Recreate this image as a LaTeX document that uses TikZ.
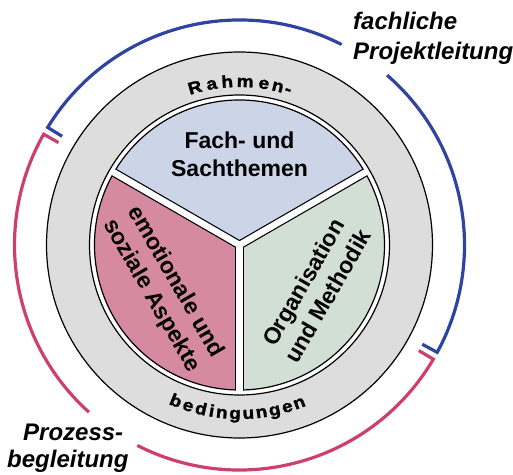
\documentclass[tikz,border=0pt]{standalone}
\usepackage{fontspec}
\setmainfont{Liberation Sans}
\newfontfamily\ringfam{Liberation Sans Bold}[FakeBold=1.6, FakeStretch=1.12]
\definecolor{ringgray}{RGB}{221,221,221}
\definecolor{secblue}{RGB}{203,213,231}
\definecolor{secpink}{RGB}{214,138,161}
\definecolor{secgreen}{RGB}{210,223,212}
\definecolor{arcblue}{RGB}{46,68,160}
\definecolor{arcpink}{RGB}{205,64,110}
\newcommand\myringfont{\ringfam\fontsize{17}{20}\selectfont}
\tikzset{
  outl/.style={draw=black, line width=1.2pt},
  bracketarc/.style={line width=3.2pt, line join=miter},
  inlabel/.style={font=\bfseries\fontsize{23}{28}\selectfont, align=center, inner sep=0pt},
  outlabel/.style={font=\bfseries\itshape\fontsize{24}{29}\selectfont, inner sep=0pt, anchor=base west},
  ringchar/.style={font=\myringfont, inner sep=0pt, anchor=base}
}
\begin{document}
\begin{tikzpicture}[x=1pt,y=1pt]
\useasboundingbox (0,0) rectangle (513,474);
\begin{scope}[shift={(239.5,229)}]
  \coordinate (C) at (0,0);
  % rings
  \path[outl, fill=ringgray] (C) circle[radius=193];
  \path[outl, fill=white] (C) circle[radius=150];
  % sectors
  \path[outl, fill=secblue] (C) -- (30:145) arc[start angle=30, end angle=150, radius=145] -- cycle;
  \path[outl, fill=secpink] (C) -- (150:145) arc[start angle=150, end angle=270, radius=145] -- cycle;
  \path[outl, fill=secgreen] (C) -- (270:145) arc[start angle=270, end angle=390, radius=145] -- cycle;
  % gaps between sectors
  \foreach \a in {30,150,270} \draw[line width=8.8pt] (C) -- (\a:145);
  \foreach \a in {30,150,270} \draw[white, line width=6.4pt] (C) -- (\a:147.5);
  % outer brackets
  \draw[arcblue, bracketarc] (-28.5:208) -- (-28.5:225) arc[start angle=-28.5, end angle=49, radius=225];
  \draw[arcblue, bracketarc] (63:225) arc[start angle=63, end angle=148.5, radius=225] -- (148.5:208);
  \draw[arcpink, bracketarc] (150.5:208) -- (150.5:225) arc[start angle=150.5, end angle=228, radius=225];
  \draw[arcpink, bracketarc] (243:225) arc[start angle=243, end angle=329.5, radius=225] -- (329.5:208);
  % curved ring text: "Rahmen-" (top) and "bedingungen" (bottom), letter by letter
  \foreach \ch/\ang [count=\i] in {R/105.8, a/99.8, h/94.3, m/88.0, e/81.4, n/76.4, -/72.6}
    \node[ringchar, rotate=\ang-90] (top\i) at (\ang:158) {\ch};
  \foreach \ch/\ang [count=\i] in {b/247.8, e/252.3, d/256.8, i/260.5, n/264.0, g/268.5, u/273.0, n/277.5, g/282.0, e/286.4, n/290.7}
    \node[ringchar, rotate=\ang+90] (bot\i) at (\ang:174) {\ch};
\end{scope}
% sector labels
\node[inlabel] (fach) at (239.5,320) {Fach- und\\Sachthemen};
\node[inlabel, rotate=-60] (emo) at (163.5,185) {emotionale und\\soziale Aspekte};
\node[inlabel, rotate=60] (org) at (315.5,185) {Organisation\\und Methodik};
% outer labels
\node[outlabel] (fl1) at (353,444) {fachliche};
\node[outlabel] (fl2) at (353,414) {Projektleitung};
\node[outlabel] (pb1) at (23,34) {Prozess-};
\node[outlabel] (pb2) at (7,7) {begleitung};
\end{tikzpicture}
\end{document}
